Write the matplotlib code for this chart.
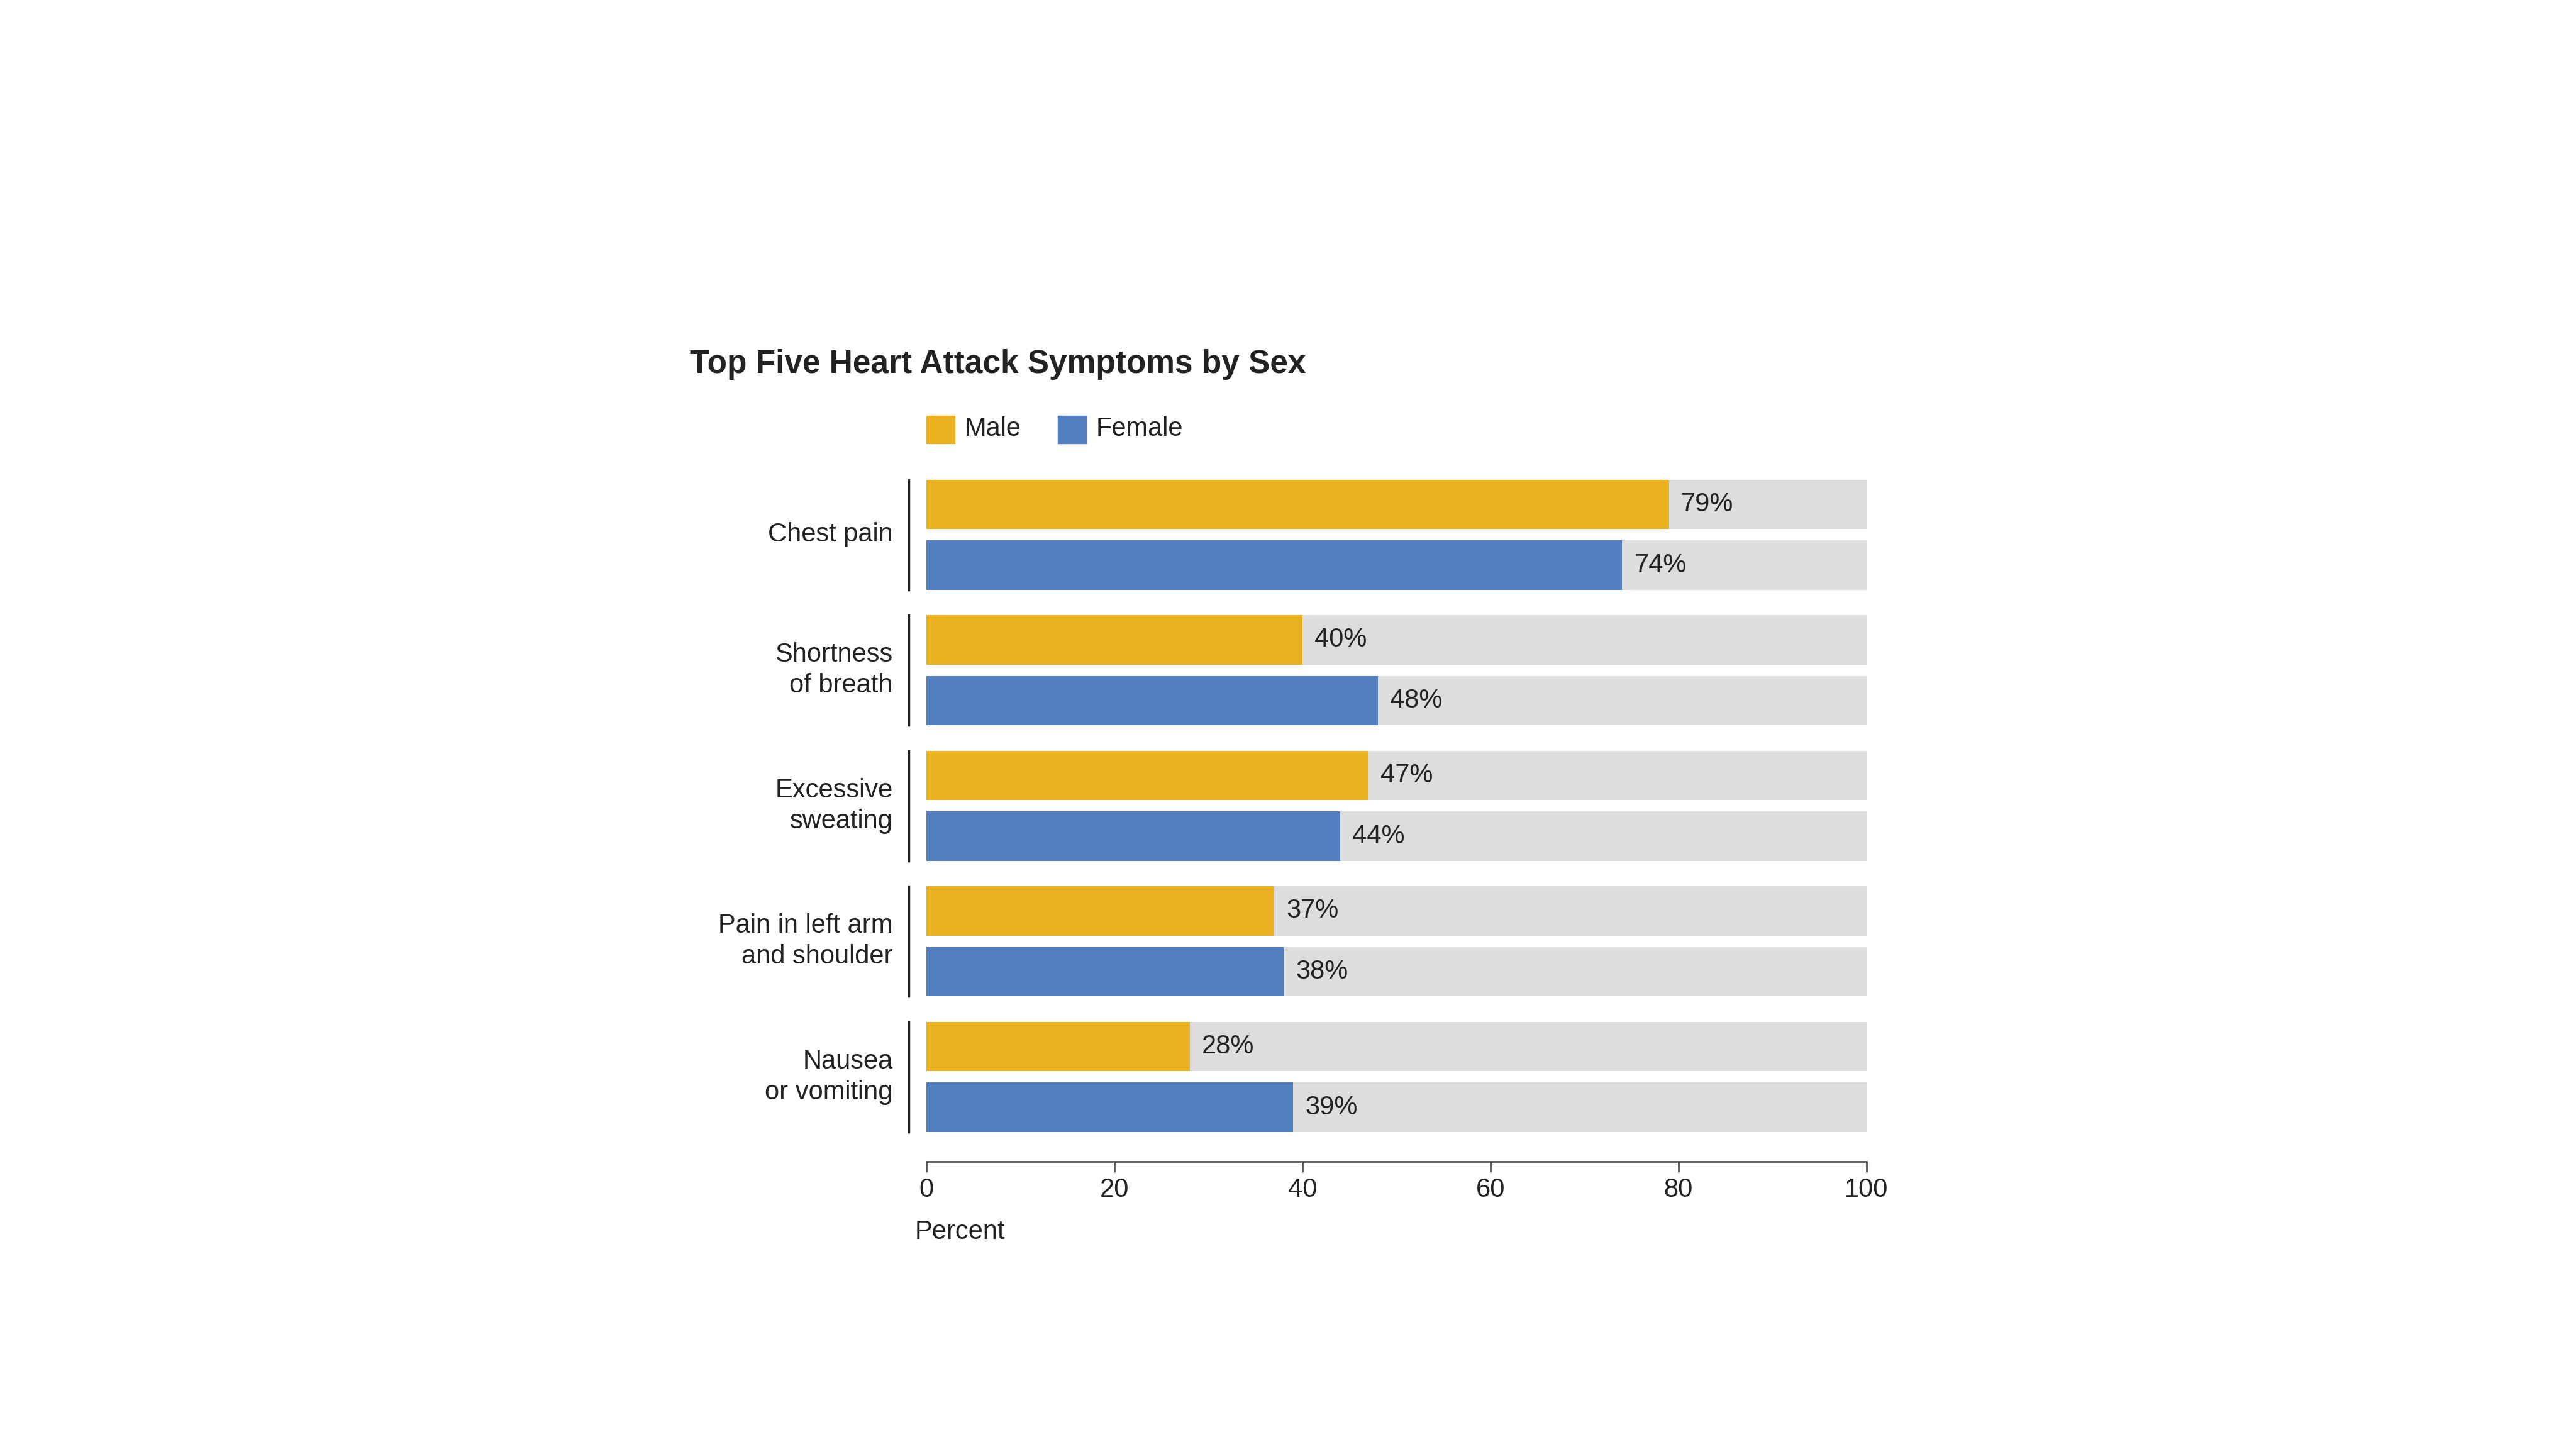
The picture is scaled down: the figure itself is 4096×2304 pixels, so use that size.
import matplotlib.pyplot as plt
from matplotlib.patches import Rectangle
import matplotlib.transforms as mtransforms

plt.rcParams['font.family'] = ['Liberation Sans', 'DejaVu Sans']

symptoms = ["Chest pain", "Shortness\nof breath", "Excessive\nsweating",
            "Pain in left arm\nand shoulder", "Nausea\nor vomiting"]
male = [79, 40, 47, 37, 28]
female = [74, 48, 44, 38, 39]
ticks = [0, 20, 40, 60, 80, 100]

MALE_C = "#EAB020"
FEMALE_C = "#537FC3"
BG_C = "#DCDDDE"

W, H = 1568, 882  # reference layout units
fig = plt.figure(figsize=(40.96, 23.04), dpi=100)
ax = fig.add_axes([564 / W, 1 - 707 / H, 572 / W, (707 - 285) / H])

pitch = 82.5
bh = 30 / pitch
off = 18.5 / pitch
for i, (m, f) in enumerate(zip(male, female)):
    for y, v, c in [(i - off, m, MALE_C), (i + off, f, FEMALE_C)]:
        ax.barh(y, 100, height=bh, color=BG_C, zorder=1)
        ax.barh(y, v, height=bh, color=c, zorder=2)
        ax.text(v + 1.3, y, f"{v}%", va='center', ha='left', fontsize=30,
                color='#222222', zorder=3)

ax.set_xlim(0, 100)
ax.set_ylim((707 - 325.5) / pitch, (285 - 325.5) / pitch)
for s in ['top', 'right', 'left']:
    ax.spines[s].set_visible(False)
ax.spines['bottom'].set_color('#555555')
ax.spines['bottom'].set_linewidth(2)
ax.set_yticks([])
ax.set_xticks(ticks)
ax.tick_params(axis='x', length=12, width=2, color='#555555', labelsize=30,
               pad=6, labelcolor='#222222')

trans = mtransforms.blended_transform_factory(ax.transAxes, ax.transData)
for i, lab in enumerate(symptoms):
    ax.plot([-0.019, -0.019], [i - off - bh / 2, i + off + bh / 2], color='#222222',
            lw=2.5, transform=trans, clip_on=False)
    ax.text(-0.036, i, lab, transform=trans, ha='right', va='center', fontsize=30,
            color='#222222', linespacing=1.3)

fig.text(557 / W, 1 - 750 / H, "Percent", ha='left', va='center', fontsize=30, color='#222222')
fig.text(420 / W, 1 - 222 / H, "Top Five Heart Attack Symptoms by Sex", ha='left',
         va='center', fontsize=37, fontweight='bold', color='#222222')

# legend
for x0, lab, c in [(564, "Male", MALE_C), (644, "Female", FEMALE_C)]:
    fig.patches.append(Rectangle((x0 / W, 1 - 270 / H), 17 / W, 17 / H, color=c,
                                 transform=fig.transFigure))
    fig.text((x0 + 23) / W, 1 - 261 / H, lab, ha='left', va='center', fontsize=30,
             color='#222222')

fig.savefig("out.png", dpi=100, facecolor='white')
